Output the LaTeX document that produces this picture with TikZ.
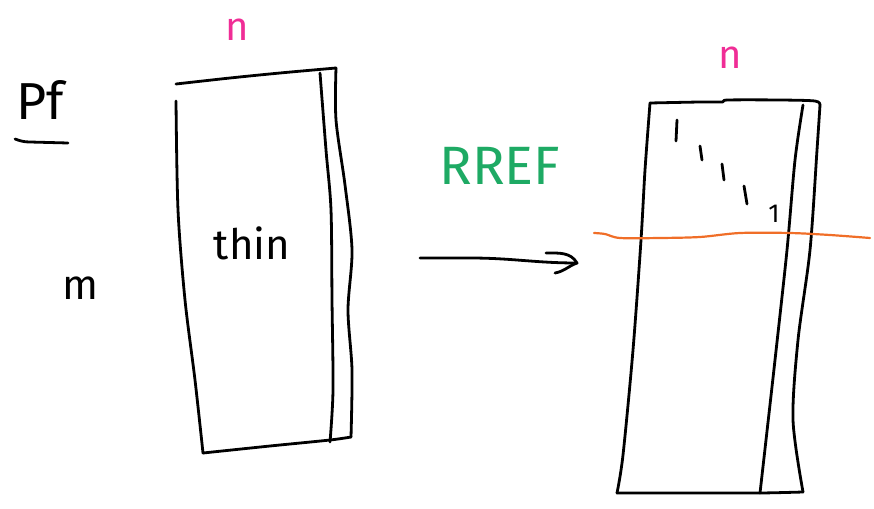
\documentclass[tikz,border=0pt]{standalone}
\usepackage{fontspec}
\setmainfont{Fira Sans}
\definecolor{inkpink}{RGB}{240,45,150}
\definecolor{inkgreen}{RGB}{30,170,100}
\definecolor{inkorange}{RGB}{240,110,40}
\tikzset{
  ink/.style={line width=2.8pt, line cap=round, line join=round},
  hand/.style={inner sep=0pt, font=\fontsize{#1}{#1}\selectfont},
}
\begin{document}
\begin{tikzpicture}[x=1pt,y=-1pt]
\useasboundingbox (0,0) rectangle (874,508);

% labels
\node[hand=52] (pf) at (40,100) {Pf};
\draw[ink] (15,139) to[out=-20,in=180] (30,142) -- (68,143);
\node[hand=42] (m) at (80,288) {m};
\node[hand=40, text=inkpink] (n1) at (237,30) {n};
\node[hand=40, text=inkpink] (n2) at (730,58) {n};
\node[hand=42] (thin) at (252,243) {thin};
\node[hand=54, text=inkgreen] (rref) at (500,166) {RREF};

% left matrix (tall, thin)
\draw[ink] plot[smooth, tension=0.5] coordinates {(176,84) (230,78) (280,73) (336,68)};
\draw[ink] plot[smooth, tension=0.5] coordinates {(336,68) (336,120) (345,185) (352,250) (348,310) (352,370) (351,437)};
\draw[ink] plot[smooth, tension=0.5] coordinates {(351,437) (330,440) (270,446) (203,453)};
\draw[ink] plot[smooth, tension=0.5] coordinates {(176,101) (178,210) (185,300) (195,380) (203,453)};
\draw[ink] plot[smooth, tension=0.5] coordinates {(320,73) (326,150) (331,210) (332,300) (333,390) (330,442)};

% arrow between the matrices
\coordinate (a0) at (420,258);
\coordinate (a1) at (577,263);
\draw[ink] (a0) -- (470,258) to[out=0,in=180] (a1);
\draw[ink] (546,253) to[out=0,in=120] (a1) to[out=-160,in=10] (555,273);

% right matrix after row reduction
\draw[ink] plot[smooth, tension=0.5] coordinates {(650,103) (700,102) (722,102) (728,100) (780,100) (815,101) (820,105)};
\draw[ink] plot[smooth, tension=0.5] coordinates {(820,105) (817,150) (810,250) (798,340) (793,420) (803,492)};
\draw[ink] plot[smooth, tension=0.5] coordinates {(617,493) (700,493) (760,493) (803,492)};
\draw[ink] plot[smooth, tension=0.5] coordinates {(650,103) (645,170) (641,240) (633,350) (623,455) (617,493)};
\draw[ink] plot[smooth, tension=0.5] coordinates {(803,105) (795,160) (787,250) (775,360) (766,440) (760,493)};

% pivot ones on the diagonal
\draw[ink] (677,120) -- (676,141);
\draw[ink] (700,146) -- (702,160);
\draw[ink] (722,164) -- (724,180);
\draw[ink] (744,186) -- (747,204);
\node[hand=26] (one) at (774,214) {1};

% cut line below the pivots
\draw[inkorange, line width=2.2pt, line cap=round] plot[smooth, tension=0.5] coordinates {(594,233) (605,234) (620,238) (660,238) (700,237) (740,233) (790,233) (830,235) (870,238)};
\end{tikzpicture}
\end{document}
